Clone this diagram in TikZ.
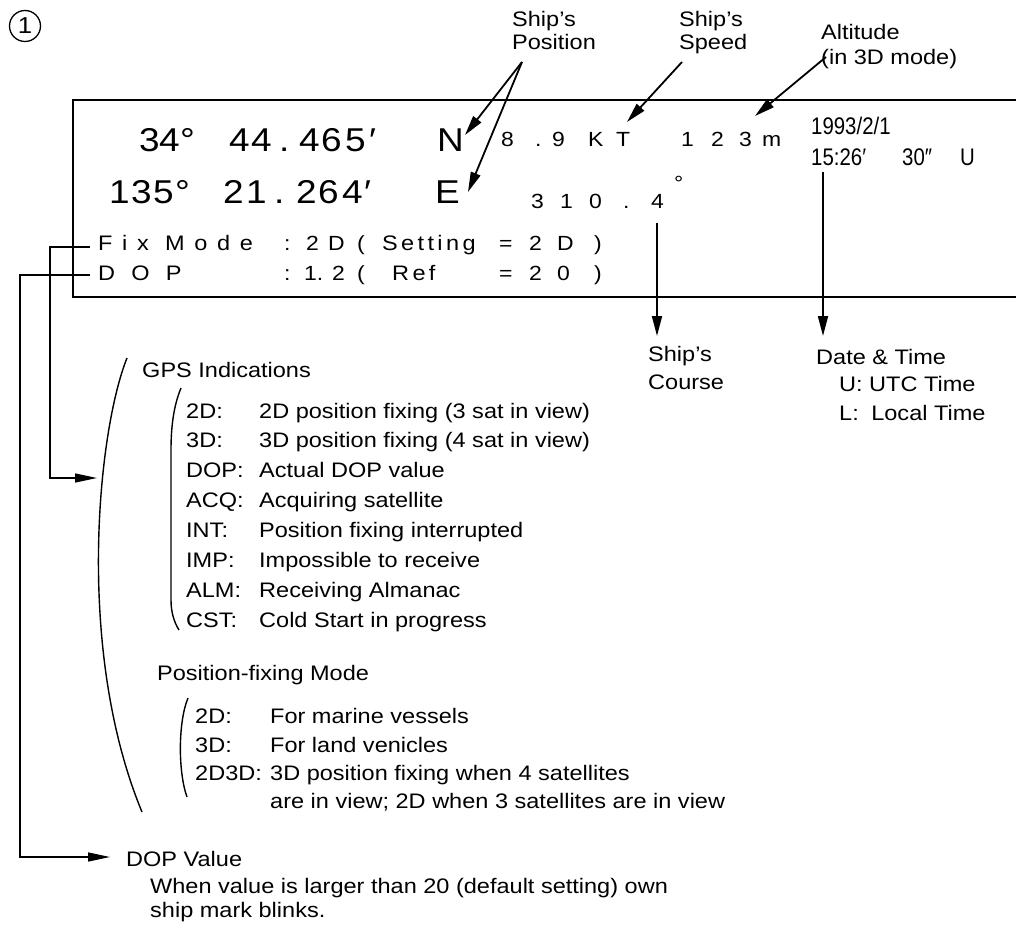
\documentclass[tikz,border=0pt]{standalone}
\usepackage{fontspec}
\setmainfont[FakeStretch=1.12]{Liberation Sans}
\newfontfamily\trackfont[FakeStretch=1.12,LetterSpace=46]{Liberation Sans}
\newfontfamily\widefont[FakeStretch=1.12,LetterSpace=16]{Liberation Sans}
\newfontfamily\narrowfont[FakeStretch=0.85]{Liberation Sans}
\usetikzlibrary{arrows.meta}

\tikzset{
  txt/.style={anchor=base west, inner sep=0pt, font=\fontsize{21}{25}\selectfont},
  big/.style={anchor=base west, inner sep=0pt, font=\fontsize{33}{33}\selectfont},
  dig/.style={anchor=base west, inner sep=0pt, font=\fontsize{20.5}{20.5}\selectfont},
  clock/.style={anchor=base west, inner sep=0pt, font=\fontsize{24}{24}\narrowfont},
  ptr/.style={line width=1.8pt, -{Triangle[length=20pt,width=10pt]}},
  feed/.style={line width=1.4pt, -{Triangle[length=22pt,width=9pt]}},
  wire/.style={line width=1.4pt},
}

\begin{document}
\begin{tikzpicture}[x=1pt,y=-1pt]
\useasboundingbox (0,0) rectangle (1016,936);

% figure number
\node[circle,draw,line width=1.3pt,minimum size=31pt,inner sep=0pt,font=\fontsize{23}{23}\selectfont] (fignum) at (25,26) {1};

% display frame, open on the right
\draw[line width=2.4pt] (1016,100) -| (73,297) -- (1016,297);

% position read-out
\foreach \x/\c [count=\i] in {139/3,159/4,180/°,229/4,251/4,279/.,299/4,321/6,345/5,369/′,437/N}
  \node[big] (lat\i) at (\x,152) {\c};
\foreach \x/\c [count=\i] in {109/1,131/3,153/5,175/°,223/2,246/1,274/.,296/2,318/6,342/4,364/′,435/E}
  \node[big] (lon\i) at (\x,203) {\c};

% speed, altitude, course
\foreach \x/\c [count=\i] in {501/8,535/.,552/9,588/K,616/T}
  \node[dig] (spd\i) at (\x,147) {\c};
\foreach \x/\c [count=\i] in {681/1,711/2,739/3,762/m}
  \node[dig] (alt\i) at (\x,147) {\c};
\foreach \x/\c [count=\i] in {531/3,560/1,589/0,623/.,651/4}
  \node[dig] (crs\i) at (\x,208) {\c};
\node[dig] (crsdeg) at (674,190) {°};

% date and time
\node[clock] (date) at (811,135) {1993/2/1};
\node[clock] (hhmm) at (811,165) {15:26′};
\node[clock] (ss) at (902,165) {30″};
\node[clock] (utc) at (960,165) {U};

% status lines
\node[dig,font=\fontsize{21}{21}\trackfont] (fixlbl) at (98,250) {Fix Mode};
\foreach \x/\c [count=\i] in {284/:,306/2,328/D,357/(}
  \node[dig] (fixa\i) at (\x,250) {\c};
\node[dig,font=\fontsize{21}{21}\widefont] (fixset) at (382,250) {Setting};
\foreach \x/\c [count=\i] in {499/=,529/2,557/D,594/)}
  \node[dig] (fixb\i) at (\x,250) {\c};
\node[dig,font=\fontsize{21}{21}\trackfont] (doplbl) at (98,280) {D O P};
\foreach \x/\c [count=\i] in {284/:,304/1.,332/2,357/(}
  \node[dig] (dopa\i) at (\x,280) {\c};
\node[dig,font=\fontsize{21}{21}\widefont] (dopref) at (392,280) {Ref};
\foreach \x/\c [count=\i] in {499/=,529/2,557/0,594/)}
  \node[dig] (dopb\i) at (\x,280) {\c};

% labels above the frame
\node[txt] (posl1) at (512,27) {Ship’s};
\node[txt] (posl2) at (512,50) {Position};
\node[txt] (spdl1) at (679,27) {Ship’s};
\node[txt] (spdl2) at (679,50) {Speed};
\node[txt] (altl1) at (821,40) {Altitude};
\node[txt] (altl2) at (821,65) {(in 3D mode)};

% labels below the frame
\node[txt] (crsl1) at (648,361) {Ship’s};
\node[txt] (crsl2) at (648,389) {Course};
\node[txt] (dtl1) at (816,364) {Date \& Time};
\node[txt] (dtl2) at (839,391) {U: UTC Time};
\node[txt] (dtl3) at (839,420) {L:\hspace{6pt} Local Time};

% GPS indications
\node[txt] (gpshead) at (142,377) {GPS Indications};
\foreach \k/\d [count=\i] in {2D:/2D position fixing (3 sat in view),3D:/3D position fixing (4 sat in view),DOP:/Actual DOP value,ACQ:/Acquiring satellite,INT:/Position fixing interrupted,IMP:/Impossible to receive,ALM:/Receiving Almanac,CST:/Cold Start in progress}{
  \node[txt] (gkey\i) at (186,{388.1+29.9*\i}) {\k};
  \node[txt] (gval\i) at (259,{388.1+29.9*\i}) {\d};
}

% position-fixing mode
\node[txt] (modehead) at (157,680) {Position-fixing Mode};
\node[txt] (mkey1) at (195,723) {2D:};
\node[txt] (mval1) at (270,723) {For marine vessels};
\node[txt] (mkey2) at (195,752) {3D:};
\node[txt] (mval2) at (270,752) {For land venicles};
\node[txt] (mkey3) at (195,780) {2D3D:};
\node[txt] (mval3) at (270,780) {3D position fixing when 4 satellites};
\node[txt] (mval4) at (270,808) {are in view; 2D when 3 satellites are in view};

% DOP value
\node[txt] (dophead) at (126,866) {DOP Value};
\node[txt] (dopnote1) at (150,893) {When value is larger than 20 (default setting) own};
\node[txt] (dopnote2) at (150,917) {ship mark blinks.};

% brackets
\draw[wire] (127,358) .. controls (98,430) and (75,650) .. (142,812);
\draw[wire] (181,388) .. controls (174,405) and (171,425) .. (171,450) -- (171,600) .. controls (171,612) and (174,622) .. (179,630);
\draw[wire] (188,698) .. controls (178,722) and (178,772) .. (187,797);

% connector ends
\coordinate (posfoot) at (522,62);
\coordinate (ntip) at (465,135);
\coordinate (etip) at (468,192);
\coordinate (spdfoot) at (682,62);
\coordinate (ktip) at (627,122);
\coordinate (altfoot) at (826,57);
\coordinate (mtip) at (755,116);
\coordinate (crstop) at (657,223);
\coordinate (crsend) at (657,336);
\coordinate (clktop) at (823,172);
\coordinate (clkend) at (823,336);
\coordinate (fixstub) at (90,247);
\coordinate (gpsin) at (97,478);
\coordinate (dopstub) at (90,275);
\coordinate (dopin) at (110,857);

\draw[ptr] (posfoot) -- (ntip);
\draw[ptr] (posfoot) -- (etip);
\draw[ptr] (spdfoot) -- (ktip);
\draw[ptr] (altfoot) -- (mtip);
\draw[ptr] (crstop) -- (crsend);
\draw[ptr] (clktop) -- (clkend);
\draw[feed] (fixstub) -- ++(-40,0) |- (gpsin);
\draw[feed] (dopstub) -- ++(-70,0) |- (dopin);
\end{tikzpicture}
\end{document}
